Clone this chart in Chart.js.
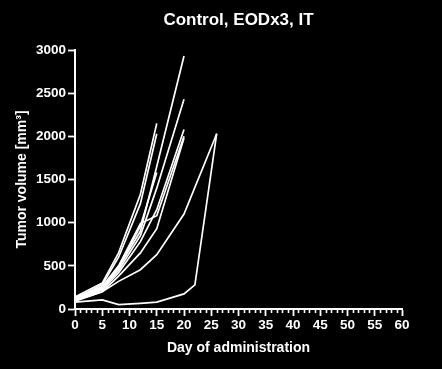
<!DOCTYPE html>
<html>
<head>
<meta charset="utf-8">
<script src="https://cdn.jsdelivr.net/npm/chart.js@4/dist/chart.umd.min.js"></script>
<style>
  html, body { margin: 0; padding: 0; background: #000; }
  #c { display: block; }
</style>
</head>
<body>
<canvas id="c" width="442" height="369"></canvas>
<script>
// Measurement days
const days = [0, 5, 8, 12, 15, 20, 22, 26];

// Tumor volumes per animal (mm^3); null = not measured
const mouse1  = [130, 250, 480,  900, 1650, 2930, null, null];
const mouse2  = [110, 230, 450,  850, 1400, 2430, null, null];
const mouse3  = [100, 220, 420,  780, 1150, 2080, null, null];
const mouse4  = [120, 260, 500,  990, 1080, 2000, null, null];
const mouse5  = [ 90, 200, 380,  650,  930, 1980, null, null];
const mouse6  = [140, 300, 650, 1330, 2150, null, null, null];
const mouse7  = [120, 280, 600, 1220, 2030, null, null, null];
const mouse8  = [100, 240, 480,  960, 1580, null, null, null];
const mouse9  = [100, 200, 320,  455,  630, 1100, null, 2030];
const mouse10 = [ 80, 105,  50,   65,   80,  175,  280, 2030];

const allMice = [mouse1, mouse2, mouse3, mouse4, mouse5, mouse6, mouse7, mouse8, mouse9, mouse10];

// Axis ticks
const xTicks = [0, 5, 10, 15, 20, 25, 30, 35, 40, 45, 50, 55, 60];
const yTicks = [0, 500, 1000, 1500, 2000, 2500, 3000];

const FONT = "'Liberation Sans', Arial, sans-serif";

const datasets = allMice.map((vals, i) => ({
  label: 'Mouse ' + (i + 1),
  data: days.map((d, k) => vals[k] === null ? null : { x: d, y: vals[k] }).filter(p => p !== null),
  borderColor: '#ffffff',
  borderWidth: 1.7,
  pointRadius: 0,
  fill: false,
  tension: 0
}));

const minorTicks = {
  id: 'minorTicks',
  afterDraw(chart) {
    const xs = chart.scales.x;
    const ctx = chart.ctx;
    const y0 = xs.top;
    ctx.save();
    ctx.strokeStyle = '#ffffff';
    ctx.lineWidth = 1.6;
    for (let d = xTicks[0]; d <= xTicks[xTicks.length - 1]; d++) {
      if (xTicks.includes(d)) continue;
      const px = Math.round(xs.getPixelForValue(d)) + 0.5;
      ctx.beginPath();
      ctx.moveTo(px, y0);
      ctx.lineTo(px, y0 + 4);
      ctx.stroke();
    }
    ctx.restore();
  }
};

const bg = {
  id: 'bg',
  beforeDraw(chart) {
    const ctx = chart.ctx;
    ctx.save();
    ctx.fillStyle = '#000';
    ctx.fillRect(0, 0, chart.width, chart.height);
    ctx.restore();
  }
};

new Chart(document.getElementById('c'), {
  type: 'line',
  data: { datasets },
  plugins: [bg, minorTicks],
  options: {
    responsive: false,
    animation: false,
    devicePixelRatio: 1,
    layout: { padding: { left: 0, right: 40, top: 5, bottom: 0 } },
    plugins: {
      legend: { display: false },
      tooltip: { enabled: false },
      title: {
        display: true,
        text: 'Control, EODx3, IT',
        color: '#ffffff',
        fullSize: false,
        font: { family: FONT, size: 17, weight: 'bold' },
        padding: { top: 4.8, bottom: 19.8 }
      }
    },
    scales: {
      x: {
        type: 'linear',
        min: 0,
        max: 60,
        afterBuildTicks: s => { s.ticks = xTicks.map(v => ({ value: v })); },
        afterFit: s => { s.height = 60; },
        ticks: {
          color: '#ffffff',
          font: { family: FONT, size: 13.5, weight: 'bold' },
          padding: 1,
          maxRotation: 0,
          callback: v => String(v)
        },
        grid: {
          drawOnChartArea: false,
          drawTicks: true,
          tickLength: 7,
          tickWidth: 1.8,
          color: '#ffffff'
        },
        border: { color: '#ffffff', width: 2 },
        title: {
          display: true,
          text: 'Day of administration',
          color: '#ffffff',
          font: { family: FONT, size: 14, weight: 'bold' },
          padding: { top: 4, bottom: 12.4 }
        }
      },
      y: {
        type: 'linear',
        min: 0,
        max: 3000,
        afterBuildTicks: s => { s.ticks = yTicks.map(v => ({ value: v })); },
        afterFit: s => { s.width = 75; },
        ticks: {
          color: '#ffffff',
          font: { family: FONT, size: 13.5, weight: 'bold' },
          padding: 2,
          callback: v => String(v)
        },
        grid: {
          drawOnChartArea: false,
          drawTicks: true,
          tickLength: 7,
          tickWidth: 1.8,
          color: '#ffffff'
        },
        border: { color: '#ffffff', width: 2 },
        title: {
          display: true,
          text: 'Tumor volume [mm³]',
          color: '#ffffff',
          font: { family: FONT, size: 14, weight: 'bold' },
          padding: { top: 13.4, bottom: 4 }
        }
      }
    }
  }
});
</script>
</body>
</html>
